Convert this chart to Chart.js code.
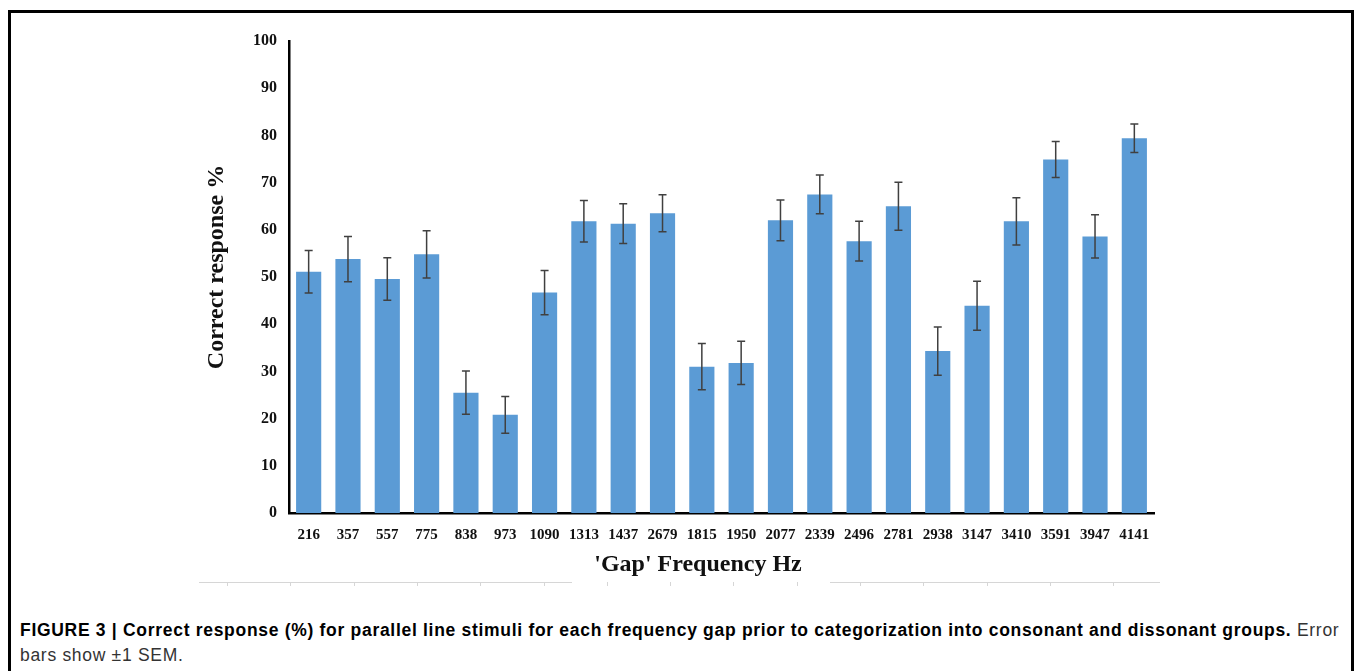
<!DOCTYPE html>
<html>
<head>
<meta charset="utf-8">
<script src="https://cdn.jsdelivr.net/npm/chart.js@4.4.1/dist/chart.umd.min.js"></script>
<style>
  html, body { margin: 0; padding: 0; background: #fff; width: 1360px; height: 671px; overflow: hidden; }
  #frame { position: absolute; left: 8px; top: 10px; width: 1346px; height: 700px;
           border-left: 3px solid #000; border-top: 3px solid #000; border-right: 3px solid #000; box-sizing: border-box; }
  #wrap { position: absolute; left: 0; top: 0; width: 1360px; height: 600px; }
  #caption { position: absolute; left: 20px; top: 618px; width: 1330px;
             font-family: "Liberation Sans", Arial, sans-serif; font-size: 17.5px; letter-spacing: 0.7px;
             line-height: 25px; color: #333; }
  #caption b { color: #000; }
</style>
</head>
<body>
<div id="frame"></div>
<div id="wrap"><canvas id="chart" width="1360" height="600"></canvas></div>
<div id="caption"><b>FIGURE 3 | Correct response (%) for parallel line stimuli for each frequency gap prior to categorization into consonant and dissonant groups.</b> Error bars show ±1 SEM.</div>
<script>
// Gap frequencies (Hz), in the order they are plotted
const gapFrequencies = ['216','357','557','775','838','973','1090','1313','1437','2679','1815','1950',
                        '2077','2339','2496','2781','2938','3147','3410','3591','3947','4141'];
// Mean correct response (%)
const correctResponse = [51.1, 53.8, 49.6, 54.8, 25.5, 20.8, 46.7, 61.8, 61.3, 63.5, 31.0, 31.8,
                         62.0, 67.5, 57.6, 65.0, 34.3, 43.9, 61.8, 74.9, 58.6, 79.4];
// Standard error of the mean (%)
const responseSEM = [4.5, 4.8, 4.5, 5.0, 4.6, 3.9, 4.7, 4.4, 4.2, 3.9, 4.9, 4.6,
                     4.3, 4.1, 4.2, 5.1, 5.1, 5.2, 5.0, 3.8, 4.6, 3.0];
const yTicks = [0, 10, 20, 30, 40, 50, 60, 70, 80, 90, 100];

const serif = '"Liberation Serif", "Times New Roman", serif';

// ±1 SEM whiskers drawn on top of the bars
const errorBars = {
  id: 'errorBars',
  afterDatasetsDraw(chart) {
    const ctx = chart.ctx;
    const meta = chart.getDatasetMeta(0);
    const y = chart.scales.y;
    ctx.save();
    ctx.strokeStyle = '#404040';
    ctx.lineWidth = 1.5;
    meta.data.forEach((bar, i) => {
      const x = bar.x;
      const top = y.getPixelForValue(correctResponse[i] + responseSEM[i]);
      const bot = y.getPixelForValue(correctResponse[i] - responseSEM[i]);
      ctx.beginPath();
      ctx.moveTo(x, top); ctx.lineTo(x, bot);
      ctx.moveTo(x - 4, top); ctx.lineTo(x + 4, top);
      ctx.moveTo(x - 4, bot); ctx.lineTo(x + 4, bot);
      ctx.stroke();
    });
    ctx.restore();
  }
};

// Axis titles and the faint rule below the chart
const axisTitles = {
  id: 'axisTitles',
  afterDraw(chart) {
    const ctx = chart.ctx;
    const area = chart.chartArea;
    ctx.save();
    ctx.fillStyle = '#111';
    ctx.textAlign = 'center';
    ctx.textBaseline = 'middle';
    ctx.font = 'bold 24px ' + serif;
    ctx.fillText("'Gap' Frequency Hz", 698, 565);
    ctx.translate(217, (area.top + area.bottom) / 2 - 10);
    ctx.rotate(-Math.PI / 2);
    ctx.font = 'bold 24px ' + serif;
    ctx.fillText('Correct response %', 0, 0);
    ctx.restore();

    ctx.save();
    ctx.strokeStyle = '#d6d6d6';
    ctx.lineWidth = 1;
    ctx.beginPath();
    ctx.moveTo(199, 582.5); ctx.lineTo(572, 582.5);
    ctx.moveTo(830, 582.5); ctx.lineTo(1160, 582.5);
    for (let k = 0; k < 15; k++) {
      const tx = Math.round(227 + 63.3 * k) + 0.5;
      ctx.moveTo(tx, 582); ctx.lineTo(tx, 586);
    }
    ctx.stroke();
    ctx.restore();
  }
};

new Chart(document.getElementById('chart'), {
  type: 'bar',
  data: {
    labels: gapFrequencies,
    datasets: [{
      data: correctResponse,
      backgroundColor: '#5b9bd5',
      borderWidth: 0,
      barPercentage: 0.8,
      categoryPercentage: 0.8
    }]
  },
  options: {
    responsive: false,
    animation: false,
    devicePixelRatio: 1,
    layout: { padding: { left: 229, right: 206, top: 41, bottom: 57 } },
    plugins: { legend: { display: false }, tooltip: { enabled: false } },
    scales: {
      x: {
        grid: { display: false, drawTicks: false },
        border: { color: '#000', width: 2.5 },
        ticks: { color: '#111', font: { family: serif, size: 15, weight: 'bold' }, padding: 13, maxRotation: 0, autoSkip: false },
        afterFit(scale) { scale.height = 30; }
      },
      y: {
        min: 0, max: 100,
        afterBuildTicks(scale) { scale.ticks = yTicks.map(v => ({ value: v })); },
        grid: { display: false, drawTicks: false },
        border: { color: '#000', width: 2.5 },
        ticks: { color: '#111', font: { family: serif, size: 16, weight: 'bold' }, padding: 12 },
        afterFit(scale) { scale.width = 60; }
      }
    }
  },
  plugins: [errorBars, axisTitles]
});
</script>
</body>
</html>
